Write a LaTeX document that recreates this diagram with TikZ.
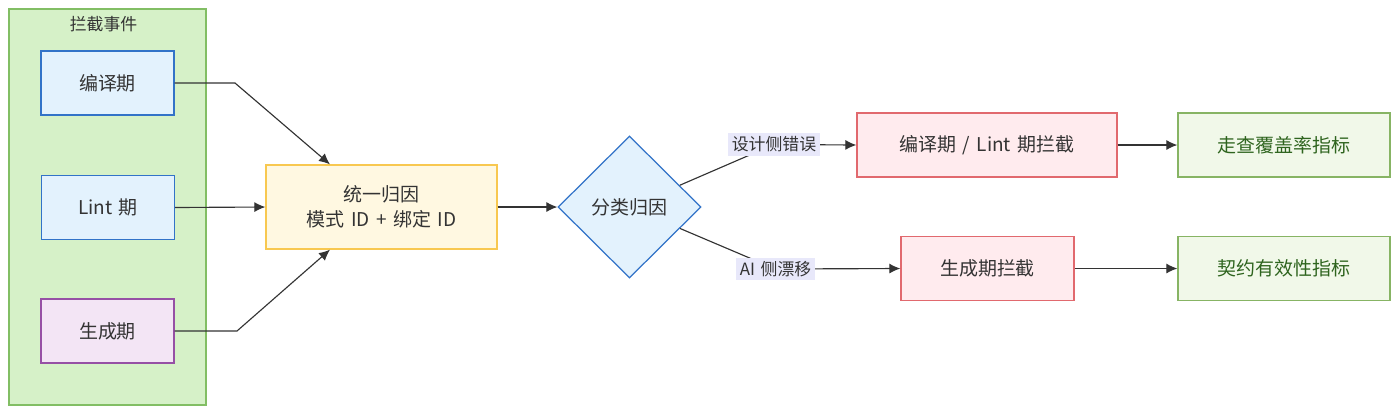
\documentclass[tikz,border=0pt]{standalone}
\usepackage{fontspec}
\setmainfont[WordSpace=1.5]{Noto Sans CJK SC}
\usetikzlibrary{shapes.geometric,arrows.meta}

\definecolor{groupfill}{RGB}{214,241,200}
\definecolor{groupline}{RGB}{130,190,100}
\definecolor{bluefill}{RGB}{227,242,253}
\definecolor{blueline}{RGB}{50,115,200}
\definecolor{purplefill}{RGB}{243,229,245}
\definecolor{purpleline}{RGB}{150,80,165}
\definecolor{yellowfill}{RGB}{255,248,225}
\definecolor{yellowline}{RGB}{248,200,80}
\definecolor{redfill}{RGB}{255,235,238}
\definecolor{redline}{RGB}{225,105,110}
\definecolor{greenfill}{RGB}{241,248,233}
\definecolor{greenline}{RGB}{135,180,100}
\definecolor{greentext}{RGB}{46,100,30}
\definecolor{labelfill}{RGB}{232,232,250}
\definecolor{textdark}{RGB}{51,51,51}

\tikzset{
    box/.style={draw, line width=0.7pt, minimum height=1.28cm, inner sep=0pt,
        text=textdark, font=\fontsize{10.8}{14.5}\selectfont, align=center},
    phasebox/.style={box, fill=bluefill, draw=blueline, minimum width=2.66cm},
    genbox/.style={box, fill=purplefill, draw=purpleline, minimum width=2.66cm},
    unifybox/.style={box, fill=yellowfill, draw=yellowline, minimum width=4.62cm, minimum height=1.68cm},
    decide/.style={diamond, draw=blueline, fill=bluefill, line width=0.7pt, inner sep=0pt,
        minimum width=2.86cm, minimum height=2.84cm, text=textdark, font=\fontsize{10.8}{14.5}\selectfont},
    stopbox/.style={box, fill=redfill, draw=redline},
    metricbox/.style={box, fill=greenfill, draw=greenline, text=greentext, minimum width=4.24cm},
    edgelabel/.style={fill=labelfill, inner sep=2pt, text=textdark, font=\fontsize{9.6}{12}\selectfont},
    arr/.style={draw=textdark, line width=0.65pt, -{Latex[length=2.2mm,width=2mm]}},
}

\begin{document}
\begin{tikzpicture}
    \useasboundingbox (0,0) rectangle (28,-8.3);

    % Group of interception events
    \node[draw=groupline, fill=groupfill, line width=0.7pt, minimum width=3.94cm, minimum height=7.92cm] (events) at (2.15,-4.14) {};
    \node[text=textdark, font=\fontsize{9.6}{12}\selectfont] (eventstitle) at (2.07,-0.48) {拦截事件};

    % Phases inside the group
    \node[phasebox] (compile) at (2.15,-1.66) {编译期};
    \node[phasebox] (lint) at (2.16,-4.15) {Lint 期};
    \node[genbox] (generate) at (2.15,-6.62) {生成期};

    % Attribution
    \node[unifybox] (unify) at (7.63,-4.14) {统一归因\\模式 ID + 绑定 ID};
    \node[decide] (classify) at (12.59,-4.14) {分类归因};

    % Interception stages
    \node[stopbox, minimum width=5.2cm] (stopcompile) at (19.74,-2.9) {编译期 / Lint 期拦截};
    \node[stopbox, minimum width=3.46cm] (stopgen) at (19.75,-5.37) {生成期拦截};

    % Metrics
    \node[metricbox] (coverage) at (25.68,-2.9) {走查覆盖率指标};
    \node[metricbox] (contract) at (25.68,-5.37) {契约有效性指标};

    % Connectors
    \coordinate (bendtop) at (4.7,-1.66);
    \coordinate (bendbot) at (4.74,-6.62);
    \draw[arr] (compile.east) -- (bendtop) -- ([xshift=-1.03cm]unify.north);
    \draw[arr] (lint.east) -- (unify.west);
    \draw[arr] (generate.east) -- (bendbot) -- ([xshift=-1.03cm]unify.south);
    \draw[arr] (unify.east) -- (classify.west);

    \coordinate (designpos) at (15.48,-2.89);
    \coordinate (driftpos) at (15.51,-5.38);
    \draw[arr] (classify) -- (designpos) -- (stopcompile.west);
    \draw[arr] (classify) -- (driftpos) -- (stopgen.west);
    \draw[arr] (stopcompile.east) -- (coverage.west);
    \draw[arr] (stopgen.east) -- (contract.west);

    % Edge labels
    \node[edgelabel] (design) at (designpos) {设计侧错误};
    \node[edgelabel] (drift) at (driftpos) {AI 侧漂移};
\end{tikzpicture}
\end{document}
